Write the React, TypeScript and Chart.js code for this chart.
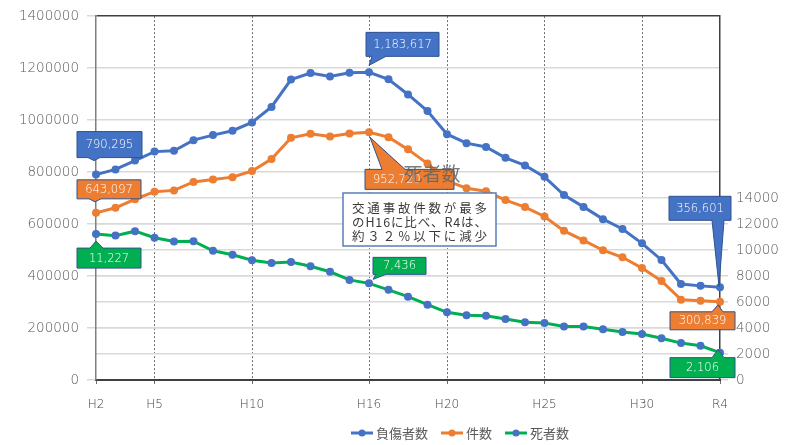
import { useEffect, useRef } from 'react';
import { Chart, registerables } from 'chart.js';

Chart.register(...registerables);

// 年（平成2年〜令和4年）
const years = [
  'H2', 'H3', 'H4', 'H5', 'H6', 'H7', 'H8', 'H9', 'H10', 'H11',
  'H12', 'H13', 'H14', 'H15', 'H16', 'H17', 'H18', 'H19', 'H20', 'H21',
  'H22', 'H23', 'H24', 'H25', 'H26', 'H27', 'H28', 'H29', 'H30', 'R1',
  'R2', 'R3', 'R4',
];

// 目盛りとして表示する年
const axisTicks = ['H2', 'H5', 'H10', 'H16', 'H20', 'H25', 'H30', 'R4'];

// 負傷者数
const injured = [
  790295, 810245, 844003, 878633, 881723, 922677, 942204, 958925, 990676, 1050399,
  1155707, 1181039, 1168029, 1181681, 1183617, 1157113, 1098564, 1034652, 945703, 911215,
  896297, 854613, 825392, 781492, 711374, 666023, 618853, 580850, 525846, 461775,
  369476, 362131, 356601,
];

// 交通事故件数
const accidents = [
  643097, 662392, 695346, 724675, 729461, 761794, 771085, 780401, 803882, 850371,
  931950, 947253, 936950, 948281, 952720, 934346, 887267, 832704, 766394, 737637,
  725924, 692084, 665157, 629033, 573842, 536899, 499201, 472165, 430601, 381237,
  309178, 305196, 300839,
];

// 死者数（右軸）
const deaths = [
  11227, 11109, 11452, 10945, 10653, 10684, 9943, 9642, 9211, 9012,
  9073, 8757, 8326, 7702, 7436, 6937, 6415, 5796, 5209, 4979,
  4948, 4691, 4438, 4388, 4113, 4117, 3904, 3694, 3532, 3215,
  2839, 2636, 2106,
];

const seriesNames = ['負傷者数', '件数', '死者数'];
const BLUE = '#4472C4';
const ORANGE = '#ED7D31';
const GREEN = '#00B050';

const NOTE_LINES = ['交通事故件数が最多', 'のH16に比べ、R4は、', '約３２％以下に減少'];

const NUM_FONT = '"DejaVu Sans", sans-serif';
const JP_FONT = '"Noto Sans CJK JP", sans-serif';

// 吹き出し: 対象の点からの相対位置 (box: dx, dy, w, h / tail: base1, tip, base2)
type Callout = {
  ds: number;
  idx: number;
  fill: string;
  box: [number, number, number, number];
  tail: [number, number][];
  textLeft?: number;
};

const callouts: Callout[] = [
  { ds: 0, idx: 0, fill: BLUE, box: [-19, -43, 65, 26], tail: [[-8, 0], [-2, -14], [4, 0]] },
  { ds: 1, idx: 0, fill: ORANGE, box: [-19, -33, 64, 19], tail: [[-7, 0], [-1, -11], [5, 0]] },
  { ds: 2, idx: 0, fill: GREEN, box: [-19, 14, 64, 20], tail: [[-6, 0], [0, 7], [7, 0]] },
  { ds: 0, idx: 14, fill: BLUE, box: [-3, -40, 73, 24], tail: [[3, 0], [0, -7], [17, 0]] },
  { ds: 1, idx: 14, fill: ORANGE, box: [-4, 37, 89, 20], tail: [[13, 0], [1, 5], [36, 0]], textLeft: 8 },
  { ds: 2, idx: 14, fill: GREEN, box: [4, -26, 53, 17], tail: [[7, 0], [4, -4], [17, 0]] },
  { ds: 0, idx: 32, fill: BLUE, box: [-51, -91, 62, 24], tail: [[-8, 0], [-1, -1], [4, 0]] },
  { ds: 1, idx: 32, fill: ORANGE, box: [-50, 10, 65, 18], tail: [[-8, 0], [-2, 3], [3, 0]] },
  { ds: 2, idx: 32, fill: GREEN, box: [-50, 5, 65, 20], tail: [[-8, 0], [-2, -3], [4, 0]] },
];

const fmt = (v: number) => v.toLocaleString('en-US');

function drawJustified(ctx: CanvasRenderingContext2D, text: string, x0: number, x1: number, y: number) {
  const chars = Array.from(text);
  const widths = chars.map((c) => ctx.measureText(c).width);
  const total = widths.reduce((a, b) => a + b, 0);
  const gap = (x1 - x0 - total) / (chars.length - 1);
  let x = x0;
  chars.forEach((c, i) => {
    ctx.fillText(c, x, y);
    x += widths[i] + gap;
  });
}

const overlayPlugin = {
  id: 'overlay',
  afterDatasetsDraw(chart: any) {
    const ctx: CanvasRenderingContext2D = chart.ctx;
    ctx.save();

    // 数値の吹き出し
    for (const c of callouts) {
      const pt = chart.getDatasetMeta(c.ds).data[c.idx];
      const px = pt.x;
      const py = pt.y;
      const [bx, by, bw, bh] = c.box;
      const x0 = px + bx;
      const y0 = py + by;
      const x1 = x0 + bw;
      const y1 = y0 + bh;
      const tip = [px + c.tail[1][0], py + c.tail[1][1]];
      const b1 = px + c.tail[0][0];
      const b2 = px + c.tail[2][0];
      const onTop = tip[1] < y0;
      ctx.beginPath();
      ctx.moveTo(x0, y0);
      if (onTop) {
        ctx.lineTo(b1, y0);
        ctx.lineTo(tip[0], tip[1]);
        ctx.lineTo(b2, y0);
      }
      ctx.lineTo(x1, y0);
      ctx.lineTo(x1, y1);
      if (!onTop) {
        ctx.lineTo(b2, y1);
        ctx.lineTo(tip[0], tip[1]);
        ctx.lineTo(b1, y1);
      }
      ctx.lineTo(x0, y1);
      ctx.closePath();
      ctx.fillStyle = c.fill;
      ctx.fill();
      ctx.strokeStyle = '#2F528F';
      ctx.lineWidth = 1;
      ctx.stroke();

      const value = chart.data.datasets[c.ds].data[c.idx] as number;
      ctx.fillStyle = '#FFFFFF';
      ctx.font = `200 11.5px ${NUM_FONT}`;
      ctx.textBaseline = 'middle';
      if (c.textLeft !== undefined) {
        ctx.textAlign = 'left';
        ctx.fillText(fmt(value), x0 + c.textLeft, (y0 + y1) / 2 + 0.5);
      } else {
        ctx.textAlign = 'center';
        ctx.fillText(fmt(value), (x0 + x1) / 2, (y0 + y1) / 2 + 0.5);
      }
    }

    // 右軸タイトル
    ctx.font = `19px ${JP_FONT}`;
    ctx.fillStyle = 'rgba(100,100,100,0.85)';
    ctx.textAlign = 'center';
    ctx.textBaseline = 'middle';
    ctx.fillText(seriesNames[2], 432, 174);

    // 注記
    ctx.fillStyle = '#FFFFFF';
    ctx.fillRect(343, 193, 153, 53);
    ctx.strokeStyle = '#5A7DB4';
    ctx.lineWidth = 1.5;
    ctx.strokeRect(343, 193, 153, 53);
    ctx.fillStyle = '#3A3A3A';
    ctx.font = `12.5px ${JP_FONT}`;
    ctx.textAlign = 'left';
    ctx.textBaseline = 'middle';
    NOTE_LINES.forEach((line, i) => drawJustified(ctx, line, 352, 487, 208.5 + i * 14));

    // 凡例
    const ds = chart.data.datasets;
    let lx = 351;
    const ly = 433;
    ctx.font = `13px ${JP_FONT}`;
    ds.forEach((d: any) => {
      ctx.strokeStyle = d.borderColor;
      ctx.lineWidth = 3;
      ctx.beginPath();
      ctx.moveTo(lx, ly);
      ctx.lineTo(lx + 22, ly);
      ctx.stroke();
      ctx.fillStyle = d.pointBackgroundColor;
      ctx.beginPath();
      ctx.arc(lx + 11, ly, 3.5, 0, Math.PI * 2);
      ctx.fill();
      ctx.fillStyle = '#595959';
      ctx.fillText(d.label, lx + 25, ly);
      lx += 25 + ctx.measureText(d.label).width + 13;
    });

    ctx.restore();
  },
};

export default function App() {
  const ref = useRef<HTMLCanvasElement>(null);

  useEffect(() => {
    document.body.style.margin = '0';
    const last = years.length - 1;
    const shown = (i: number) => axisTicks.includes(years[i]);

    const chart = new Chart(ref.current as HTMLCanvasElement, {
      type: 'line',
      data: {
        labels: years,
        datasets: [
          {
            label: seriesNames[0],
            data: injured,
            yAxisID: 'y',
            borderColor: BLUE,
            backgroundColor: BLUE,
            pointBackgroundColor: BLUE,
            pointBorderWidth: 0,
            pointRadius: 4,
            borderWidth: 3,
            tension: 0,
          },
          {
            label: seriesNames[1],
            data: accidents,
            yAxisID: 'y',
            borderColor: ORANGE,
            backgroundColor: ORANGE,
            pointBackgroundColor: ORANGE,
            pointBorderWidth: 0,
            pointRadius: 4,
            borderWidth: 3,
            tension: 0,
          },
          {
            label: seriesNames[2],
            data: deaths,
            yAxisID: 'y1',
            borderColor: GREEN,
            backgroundColor: GREEN,
            pointBackgroundColor: BLUE,
            pointBorderWidth: 0,
            pointRadius: 4,
            borderWidth: 3,
            tension: 0,
          },
        ],
      },
      options: {
        responsive: false,
        animation: false,
        devicePixelRatio: 1,
        layout: { padding: { top: 12, left: 0, right: 0, bottom: 0 } },
        plugins: {
          legend: { display: false },
          tooltip: { enabled: false },
        },
        scales: {
          x: {
            type: 'category',
            offset: false,
            afterFit: (s: any) => {
              s.height = 65;
            },
            ticks: {
              autoSkip: false,
              maxRotation: 0,
              padding: 14,
              color: '#404040',
              font: { family: NUM_FONT, size: 12, weight: '200' },
              callback: (_v: any, i: number) => (shown(i) ? years[i] : ''),
            },
            grid: {
              lineWidth: 1,
              color: (c: any) =>
                shown(c.index) && c.index !== 0 && c.index !== last ? '#6F6F6F' : 'rgba(0,0,0,0)',
              tickColor: (c: any) => (shown(c.index) ? '#6F6F6F' : 'rgba(0,0,0,0)'),
              tickLength: 4,
            },
            border: { display: true, color: '#404040', width: 2, dash: [2, 2] },
          },
          y: {
            type: 'linear',
            position: 'left',
            min: 0,
            max: 1400000,
            afterFit: (s: any) => {
              s.width = 96;
            },
            ticks: {
              stepSize: 200000,
              padding: 8,
              color: '#595959',
              font: { family: NUM_FONT, size: 13.5, weight: '200' },
              callback: (v: any) => String(v),
            },
            grid: {
              color: (c: any) => (c.tick && c.tick.value === 1400000 ? '#404040' : '#D9D9D9'),
              lineWidth: 1.5,
              tickLength: 9,
              tickColor: '#D9D9D9',
            },
            border: { display: true, color: '#7F7F7F', width: 1.5 },
          },
          y1: {
            type: 'linear',
            position: 'right',
            min: 0,
            max: 28000,
            afterFit: (s: any) => {
              s.width = 65;
            },
            afterBuildTicks: (s: any) => {
              s.ticks = s.ticks.filter((t: any) => t.value <= 14000);
            },
            ticks: {
              stepSize: 2000,
              padding: 8,
              color: '#595959',
              font: { family: NUM_FONT, size: 13.5, weight: '200' },
              callback: (v: any) => String(v),
            },
            grid: {
              color: '#D9D9D9',
              lineWidth: 1.5,
              tickLength: 8,
              tickColor: '#D9D9D9',
            },
            border: { display: true, color: '#404040', width: 1.5 },
          },
        },
      },
      plugins: [overlayPlugin],
    } as any);

    return () => chart.destroy();
  }, []);

  return (
    <div style={{ width: 785, height: 445 }}>
      <canvas ref={ref} width={785} height={445} style={{ display: 'block' }} />
    </div>
  );
}
